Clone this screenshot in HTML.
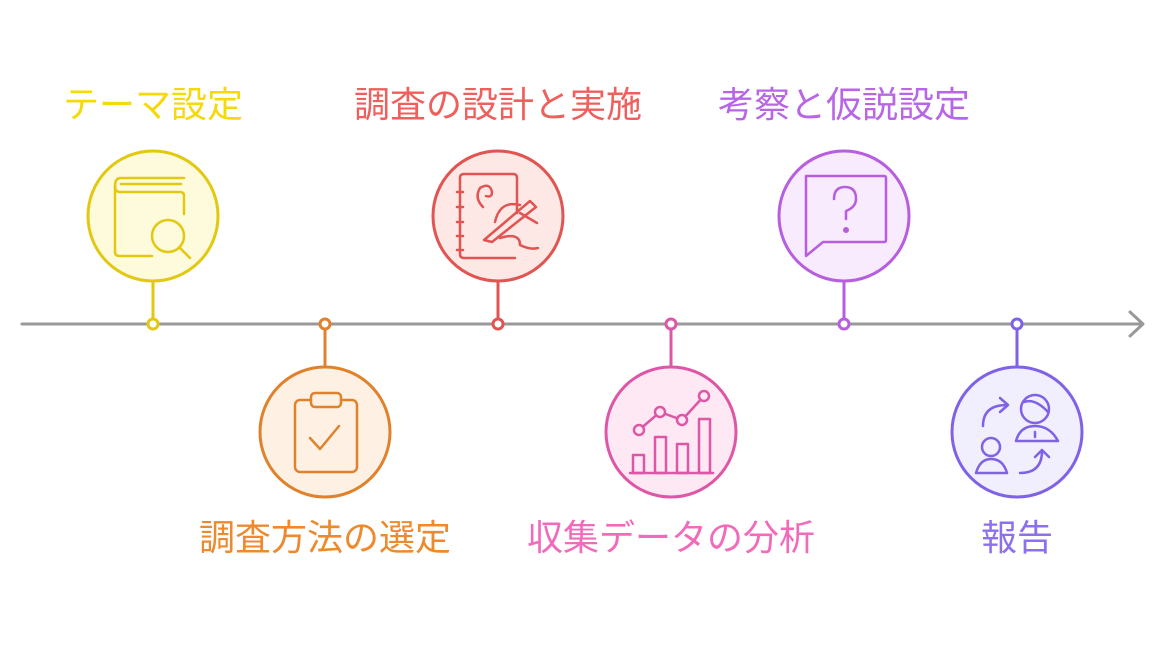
<!DOCTYPE html>
<html><head><meta charset="utf-8"><style>
html,body{margin:0;padding:0;background:#fff;}
svg{display:block}
text{font-family:"Liberation Sans","Noto Sans CJK JP",sans-serif;font-size:36px;text-anchor:middle}
</style></head><body>
<svg width="1169" height="648" viewBox="0 0 1169 648" xmlns="http://www.w3.org/2000/svg" fill="none" stroke-linecap="round" stroke-linejoin="round">
<line x1="22" y1="324" x2="1142" y2="324" stroke="#999" stroke-width="3"/>
<polyline points="1130,312 1143,324 1130,336" stroke="#999" stroke-width="3"/>

<!-- 1 yellow top -->
<g stroke="#e2c910" stroke-width="3">
<line x1="153" y1="281" x2="153" y2="318"/>
<circle cx="153" cy="216" r="65" fill="#fefadc"/>
<circle cx="153" cy="324" r="5" fill="#fff"/>
<path d="M184 214 V196 Q184 192 180 192 H120 Q115 192 115 186 Q115 178 121 178 H184" stroke-width="2.5"/>
<path d="M115 186 V252 Q115 256 120 256 H152 M121 184 H181" stroke-width="2.5"/>
<circle cx="168" cy="236" r="16" stroke-width="2.5"/>
<line x1="180" y1="248" x2="190" y2="258" stroke-width="2.5"/>
</g>
<text x="153" y="117" fill="#f5d90a">テーマ設定</text>

<!-- 2 orange bottom -->
<g stroke="#e0812c" stroke-width="3">
<line x1="325" y1="329" x2="325" y2="367"/>
<circle cx="325" cy="432" r="65" fill="#fef1e3"/>
<circle cx="325" cy="324" r="5" fill="#fff"/>
<rect x="295" y="400" width="62" height="72" rx="5" stroke-width="2.5"/>
<rect x="311" y="393" width="30" height="14" rx="4" fill="#fef1e3" stroke-width="2.5"/>
<polyline points="310,438 320,449 339,426" stroke-width="2.5"/>
</g>
<text x="325" y="550" fill="#ee8a2e">調査方法の選定</text>

<!-- 3 red top -->
<g stroke="#e05452" stroke-width="3">
<line x1="498" y1="281" x2="498" y2="318"/>
<circle cx="498" cy="216" r="65" fill="#fee8e6"/>
<circle cx="498" cy="324" r="5" fill="#fff"/>
<path d="M517 213 V178 Q517 174 513 174 H464 Q460 174 460 178 V254 Q460 258 464 258 H515" stroke-width="2.5"/>
<path d="M457 192 H463 M457 207 H463 M457 222 H463 M457 236 H463 M457 250 H463" stroke-width="2.5"/>
<path d="M483 207 Q474 198 480 188 Q490 182 492 192 Q492 198 486 196" stroke-width="2.5"/>
<path d="M484 240 L530 201 L536 207 L492 242 Z M520 213 L537 223" stroke-width="2.5"/>
<path d="M495 222 Q500 200 520 205 M500 238 Q520 232 520 245 Q530 250 538 248" stroke-width="2.5"/>
</g>
<text x="498" y="117" fill="#ef5f5c">調査の設計と実施</text>

<!-- 4 pink bottom -->
<g stroke="#de56a6" stroke-width="3">
<line x1="671" y1="329" x2="671" y2="367"/>
<circle cx="671" cy="432" r="65" fill="#fde8f4"/>
<circle cx="671" cy="324" r="5" fill="#fff"/>
<line x1="630" y1="473" x2="713" y2="473" stroke-width="2.5"/>
<rect x="633" y="455" width="11" height="18" stroke-width="2.5"/>
<rect x="655" y="437" width="11" height="36" stroke-width="2.5"/>
<rect x="677" y="444" width="11" height="29" stroke-width="2.5"/>
<rect x="699" y="419" width="11" height="54" stroke-width="2.5"/>
<polyline points="639,430 660,412 682,420 704,396" stroke-width="2.5"/>
<circle cx="639" cy="430" r="5" fill="#fde8f4" stroke-width="2.5"/>
<circle cx="660" cy="412" r="5" fill="#fde8f4" stroke-width="2.5"/>
<circle cx="682" cy="420" r="5" fill="#fde8f4" stroke-width="2.5"/>
<circle cx="704" cy="396" r="5" fill="#fde8f4" stroke-width="2.5"/>
</g>
<text x="671" y="550" fill="#f26bbb">収集データの分析</text>

<!-- 5 purple top -->
<g stroke="#b65de0" stroke-width="3">
<line x1="844" y1="281" x2="844" y2="318"/>
<circle cx="844" cy="216" r="65" fill="#f8ebfd"/>
<circle cx="844" cy="324" r="5" fill="#fff"/>
<path d="M806 176 H884 Q886 176 886 178 V240 Q886 242 884 242 H823 L806 256 Z" stroke-width="2.5"/>
<path d="M834 199 Q834 187 845 187 Q856 187 856 199 Q856 207 846 211 V219" stroke-width="2.5"/>
<circle cx="846" cy="230" r="1.5" fill="#b65de0"/>
</g>
<text x="844" y="117" fill="#b966e6">考察と仮説設定</text>

<!-- 6 violet bottom -->
<g stroke="#7f62e6" stroke-width="3">
<line x1="1017" y1="329" x2="1017" y2="367"/>
<circle cx="1017" cy="432" r="65" fill="#f1effd"/>
<circle cx="1017" cy="324" r="5" fill="#fff"/>
<path d="M983 426 Q983 405 1007 405 M1000 398 L1008 405 L1000 412" stroke-width="2.5"/>
<circle cx="1035" cy="409" r="14" stroke-width="2.5"/>
<path d="M1024 402 Q1035 398 1048 412" stroke-width="2.5"/>
<path d="M1016 441 Q1020 426 1035 426 Q1050 426 1058 441 Z M1035 432 V437" stroke-width="2.5"/>
<circle cx="991" cy="447" r="9" stroke-width="2.5"/>
<path d="M976 473 Q980 459 991 459 Q1003 459 1007 473 Z" stroke-width="2.5"/>
<path d="M1020 473 Q1042 473 1042 451 M1035 457 L1042 450 L1049 457" stroke-width="2.5"/>
</g>
<text x="1017" y="550" fill="#8c70ee">報告</text>
</svg>
</body></html>
